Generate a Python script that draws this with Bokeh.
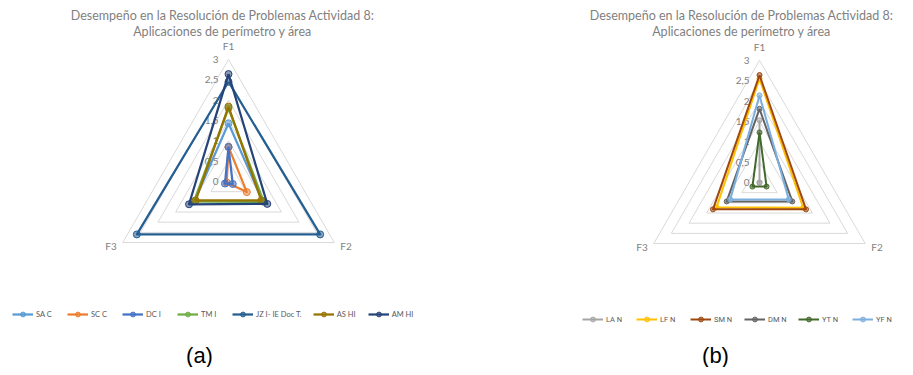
import numpy as np
from bokeh.plotting import figure
from bokeh.models import Range1d, Legend, LegendItem, Label
from bokeh.core.properties import value
from bokeh.embed import file_html
from bokeh.resources import INLINE

# ---------------- data ----------------
axis_names = ["F1", "F2", "F3"]
tick_values = [0, 0.5, 1, 1.5, 2, 2.5, 3]
tick_labels = ["0", "0,5", "1", "1,5", "2", "2,5", "3"]
title_lines = ["Desempeño en la Resolución de Problemas Actividad 8:",
               "Aplicaciones de perímetro y área"]

# chart (a)
names_a = ["SA C", "SC C", "DC I", "TM I", "JZ I- IE Doc T.", "AS HI", "AM HI"]
sa_c = [1.43, 0.97, 0.97]
sc_c = [0.85, 0.52, 0.05]
dc_i = [0.85, 0.12, 0.10]
tm_i = [1.80, 1.00, 0.98]
jz_i = [2.45, 2.60, 2.60]
as_hi = [1.84, 0.93, 0.93]
am_hi = [2.64, 1.10, 1.12]
values_a = [sa_c, sc_c, dc_i, tm_i, jz_i, as_hi, am_hi]
colors_a = ["#5B9BD5", "#ED7D31", "#4472C4", "#70AD47", "#255E91", "#997300", "#264478"]

# chart (b)
names_b = ["LA N", "LF N", "SM N", "DM N", "YT N", "YF N"]
la_n = [1.53, 0.0, 0.0]
lf_n = [2.55, 1.24, 1.22]
sm_n = [2.64, 1.32, 1.32]
dm_n = [1.81, 0.93, 0.93]
yt_n = [1.23, 0.20, 0.20]
yf_n = [2.14, 0.83, 0.83]
values_b = [la_n, lf_n, sm_n, dm_n, yt_n, yf_n]
colors_b = ["#A5A5A5", "#FFC000", "#9E480E", "#636363", "#43682B", "#7CAFDD"]

# ---------------- figure ----------------
W, H = 905, 367
p = figure(width=W, height=H, output_backend="svg", toolbar_location=None,
           x_range=Range1d(0, W), y_range=Range1d(H, 0),
           min_border=0)
p.axis.visible = False
p.grid.visible = False
p.outline_line_color = None
p.background_fill_color = "white"

angles = np.radians([90, -30, 210])
K = 40.7  # px per unit
GRID = "#D9D9D9"
TXT = "#7F7F7F"
FONT = "Lato"


def pts(cx, cy, vals):
    v = np.asarray(vals, dtype=float)
    return cx + v * K * np.cos(angles), cy - v * K * np.sin(angles)


def radar(cx, cy, title_cx, names, values, colors, lw, msize, legend_loc,
          glyph_w, spacing, lfont, lfsize):
    # grid rings
    for t in tick_values[1:]:
        x, y = pts(cx, cy, [t, t, t])
        p.line(list(x) + [x[0]], list(y) + [y[0]], line_color=GRID, line_width=1)
    # tick labels
    p.text(x=[cx - 10] * len(tick_values), y=[cy - t * K for t in tick_values],
           text=tick_labels, text_align="right", text_baseline="middle",
           text_font=value(FONT), text_font_size="10px", text_color=TXT)
    # axis labels
    ox, oy = pts(cx, cy, [3, 3, 3])
    p.text(x=[ox[0]], y=[oy[0] - 13], text=[axis_names[0]], text_align="center",
           text_baseline="middle", text_font=value(FONT), text_font_size="10px", text_color=TXT)
    p.text(x=[ox[1] + 6], y=[oy[1] + 3], text=[axis_names[1]], text_align="left",
           text_baseline="middle", text_font=value(FONT), text_font_size="10px", text_color=TXT)
    p.text(x=[ox[2] - 6], y=[oy[2] + 3], text=[axis_names[2]], text_align="right",
           text_baseline="middle", text_font=value(FONT), text_font_size="10px", text_color=TXT)
    # title
    for i, line in enumerate(title_lines):
        p.add_layout(Label(x=title_cx, y=15 + i * 16, text=line, text_align="center",
                           text_baseline="middle", text_font=FONT, text_font_size="12.5px",
                           text_color=TXT))
    # series
    items = []
    for name, vals, col in zip(names, values, colors):
        x, y = pts(cx, cy, vals)
        lr = p.line(list(x) + [x[0]], list(y) + [y[0]], line_color=col, line_width=lw,
                    line_join="round")
        sr = p.scatter(x, y, size=msize, marker="circle", line_color=col, line_width=1,
                       fill_color=col, fill_alpha=0.55)
        items.append(LegendItem(label=name, renderers=[lr, sr]))
    leg = Legend(items=items, orientation="horizontal", location=legend_loc,
                 glyph_width=glyph_w, glyph_height=12, label_standoff=3, spacing=spacing,
                 padding=0, margin=0, border_line_alpha=0, background_fill_alpha=0,
                 label_text_font=lfont, label_text_font_size=lfsize,
                 label_text_color="#595959", label_height=12,
                 label_text_baseline="middle")
    p.add_layout(leg)


radar(228, 181, 222, names_a, values_a, colors_a, 2.25, 7, (12, 47), 21, 11, FONT, "7.5px")
radar(759, 182, 741, names_b, values_b, colors_b, 2.0, 5, (582, 42), 21, 10, "Roboto", "7.5px")

# sub-figure captions
p.add_layout(Label(x=199, y=355, text="(a)", text_align="center", text_baseline="middle",
                   text_font="Liberation Sans", text_font_size="22px", text_color="black"))
p.add_layout(Label(x=715, y=355, text="(b)", text_align="center", text_baseline="middle",
                   text_font="Liberation Sans", text_font_size="22px", text_color="black"))

open("out.html", "w").write(file_html(p, INLINE))
